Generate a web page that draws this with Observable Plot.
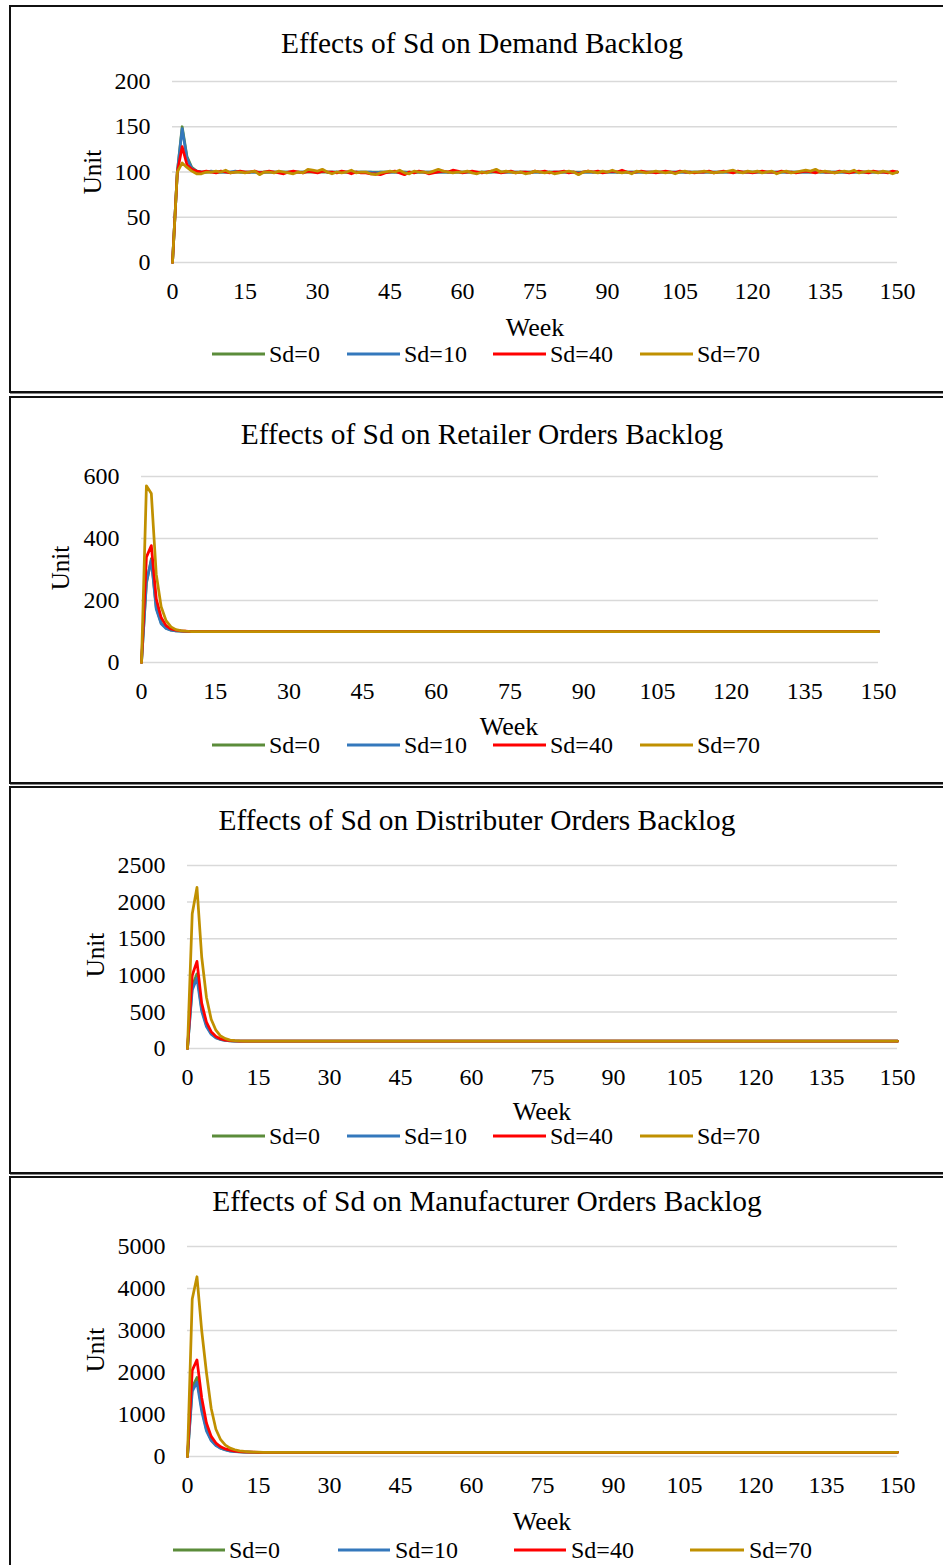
<!DOCTYPE html>
<html>
<head>
<meta charset="utf-8">
<script src="https://cdn.jsdelivr.net/npm/d3@7"></script>
<script src="https://cdn.jsdelivr.net/npm/@observablehq/plot@0.6"></script>
<style>
  html, body { margin: 0; padding: 0; background: #fff; overflow: hidden; }
  #page { position: relative; width: 943px; height: 1565px; overflow: hidden; font-family: "Liberation Serif", "Times New Roman", serif; color: #000; }
  .box { position: absolute; border: 2px solid #111; box-shadow: 1px 1px 0 #888; box-sizing: border-box; }
  .t { position: absolute; white-space: nowrap; line-height: 1; transform: translate(-50%, -50%); }
  .lt { position: absolute; white-space: nowrap; line-height: 1; transform: translateY(-50%); font-size: 24px; }
  .ll { position: absolute; height: 3px; transform: translateY(-50%); }
  .plot { position: absolute; left: 0; }
</style>
</head>
<body>
<div id="page"></div>
<script>
const seriesNames = ["Sd=0", "Sd=10", "Sd=40", "Sd=70"];
const seriesColors = ["#5B8C3A", "#3478BC", "#FF0000", "#C09000"];
const xTicks = [0, 15, 30, 45, 60, 75, 90, 105, 120, 135, 150];
const titles = [
  "Effects of Sd on Demand Backlog",
  "Effects of Sd on Retailer Orders Backlog",
  "Effects of Sd on Distributer Orders Backlog",
  "Effects of Sd on Manufacturer Orders Backlog"
];
const yTicks1 = [0, 50, 100, 150, 200];
const yTicks2 = [0, 200, 400, 600];
const yTicks3 = [0, 500, 1000, 1500, 2000, 2500];
const yTicks4 = [0, 1000, 2000, 3000, 4000, 5000];
const yLabel = "Unit";
const xLabel = "Week";

// ---- Panel 1: Demand Backlog (weeks 0..150) ----
const demandSd0 = `
0 100 150 117 105 101 100 100 100 100
100 100 100 100 100 100 100 100 100 100
100 100 100 100 100 100 100 100 100 100
100 100 100 100 100 100 100 100 100 100
100 100 100 100 100 100 100 100 100 100
100 100 100 100 100 100 100 100 100 100
100 100 100 100 100 100 100 100 100 100
100 100 100 100 100 100 100 100 100 100
100 100 100 100 100 100 100 100 100 100
100 100 100 100 100 100 100 100 100 100
100 100 100 100 100 100 100 100 100 100
100 100 100 100 100 100 100 100 100 100
100 100 100 100 100 100 100 100 100 100
100 100 100 100 100 100 100 100 100 100
100 100 100 100 100 100 100 100 100 100
100`;
const demandSd10 = `
0 100 148 115 104 101 100 100 101 100
100 100 100 101 100 100 100 100 99 100
100 100 100 100 100 100 100 100 101 101
100 101 100 100 100 100 100 100 100 100
100 100 99 100 100 100 100 100 100 99
100 100 100 100 100 100 100 100 100 100
100 100 100 99 100 100 100 101 100 100
100 100 100 100 100 100 100 100 100 100
100 100 100 100 99 100 100 100 100 100
100 100 100 100 100 100 100 100 100 100
100 100 100 100 100 100 100 100 100 100
100 100 100 100 100 100 101 100 100 100
100 100 100 100 100 100 100 100 100 100
100 100 100 101 100 100 100 100 100 100
100 100 100 100 100 100 100 100 100 100
100`;
const demandSd40 = `
0 100 128 108 103 101 100 101 100 99
101 100 99 100 101 100 100 101 99 100
101 100 99 98 100 101 100 99 101 100
99 101 100 100 99 101 100 98 100 99
99 98 98 97 99 100 101 99 97 100
99 101 100 98 99 100 101 100 102 101
99 100 101 100 99 100 101 100 99 100
101 99 100 100 99 101 100 101 99 100
100 101 99 100 98 100 101 100 101 99
100 101 100 102 100 99 100 101 100 100
99 100 101 100 99 101 100 100 99 100
100 101 99 100 101 100 99 101 100 100
99 100 101 100 100 99 101 100 100 99
100 101 100 99 101 100 100 99 101 100
99 100 101 100 99 101 100 100 99 101
100`;
const demandSd70 = `
0 100 110 105 101 98 98 100 100 101
100 102 99 100 100 99 100 101 97 100
100 99 101 100 99 98 100 99 103 102
101 103 100 98 100 99 100 102 99 100
100 98 97 99 100 101 100 102 99 98
101 100 100 99 101 103 101 100 99 100
100 101 99 98 100 99 101 103 100 101
100 99 100 98 99 101 100 99 100 98
99 100 101 100 97 100 101 100 99 101
100 102 100 99 100 98 101 100 99 100
101 100 99 100 98 100 101 99 100 100
101 100 99 100 100 101 102 100 99 101
100 101 99 100 101 98 100 101 99 100
101 102 101 103 100 101 100 99 100 101
100 102 99 100 101 100 99 101 100 98
100`;

// ---- Panel 2: Retailer Orders Backlog ----
const retailerSd0 = `
0 255 335 178 128 111 104 102 101 100
100 100 100 100 100 100 100 100 100 100
100 100 100 100 100 100 100 100 100 100
100 100 100 100 100 100 100 100 100 100
100 100 100 100 100 100 100 100 100 100
100 100 100 100 100 100 100 100 100 100
100 100 100 100 100 100 100 100 100 100
100 100 100 100 100 100 100 100 100 100
100 100 100 100 100 100 100 100 100 100
100 100 100 100 100 100 100 100 100 100
100 100 100 100 100 100 100 100 100 100
100 100 100 100 100 100 100 100 100 100
100 100 100 100 100 100 100 100 100 100
100 100 100 100 100 100 100 100 100 100
100 100 100 100 100 100 100 100 100 100
100`;
const retailerSd10 = `
0 260 330 172 125 110 104 102 101 100
100 100 100 100 100 100 100 100 100 100
100 100 100 100 100 100 100 100 100 100
100 100 100 100 100 100 100 100 100 100
100 100 100 100 100 100 100 100 100 100
100 100 100 100 100 100 100 100 100 100
100 100 100 100 100 100 100 100 100 100
100 100 100 100 100 100 100 100 100 100
100 100 100 100 100 100 100 100 100 100
100 100 100 100 100 100 100 100 100 100
100 100 100 100 100 100 100 100 100 100
100 100 100 100 100 100 100 100 100 100
100 100 100 100 100 100 100 100 100 100
100 100 100 100 100 100 100 100 100 100
100 100 100 100 100 100 100 100 100 100
100`;
const retailerSd40 = `
0 340 377 205 145 119 108 104 102 101
100 100 100 100 100 100 100 100 100 100
100 100 100 100 100 100 100 100 100 100
100 100 100 100 100 100 100 100 100 100
100 100 100 100 100 100 100 100 100 100
100 100 100 100 100 100 100 100 100 100
100 100 100 100 100 100 100 100 100 100
100 100 100 100 100 100 100 100 100 100
100 100 100 100 100 100 100 100 100 100
100 100 100 100 100 100 100 100 100 100
100 100 100 100 100 100 100 100 100 100
100 100 100 100 100 100 100 100 100 100
100 100 100 100 100 100 100 100 100 100
100 100 100 100 100 100 100 100 100 100
100 100 100 100 100 100 100 100 100 100
100`;
const retailerSd70 = `
0 570 545 285 180 135 115 106 103 101
100 100 100 100 100 100 100 100 100 100
100 100 100 100 100 100 100 100 100 100
100 100 100 100 100 100 100 100 100 100
100 100 100 100 100 100 100 100 100 100
100 100 100 100 100 100 100 100 100 100
100 100 100 100 100 100 100 100 100 100
100 100 100 100 100 100 100 100 100 100
100 100 100 100 100 100 100 100 100 100
100 100 100 100 100 100 100 100 100 100
100 100 100 100 100 100 100 100 100 100
100 100 100 100 100 100 100 100 100 100
100 100 100 100 100 100 100 100 100 100
100 100 100 100 100 100 100 100 100 100
100 100 100 100 100 100 100 100 100 100
100`;

// ---- Panel 3: Distributer Orders Backlog ----
const distribSd0 = `
0 850 1020 540 320 205 150 125 112 105
102 101 100 100 100 100 100 100 100 100
100 100 100 100 100 100 100 100 100 100
100 100 100 100 100 100 100 100 100 100
100 100 100 100 100 100 100 100 100 100
100 100 100 100 100 100 100 100 100 100
100 100 100 100 100 100 100 100 100 100
100 100 100 100 100 100 100 100 100 100
100 100 100 100 100 100 100 100 100 100
100 100 100 100 100 100 100 100 100 100
100 100 100 100 100 100 100 100 100 100
100 100 100 100 100 100 100 100 100 100
100 100 100 100 100 100 100 100 100 100
100 100 100 100 100 100 100 100 100 100
100 100 100 100 100 100 100 100 100 100
100`;
const distribSd10 = `
0 800 960 510 300 195 145 122 110 104
102 101 100 100 100 100 100 100 100 100
100 100 100 100 100 100 100 100 100 100
100 100 100 100 100 100 100 100 100 100
100 100 100 100 100 100 100 100 100 100
100 100 100 100 100 100 100 100 100 100
100 100 100 100 100 100 100 100 100 100
100 100 100 100 100 100 100 100 100 100
100 100 100 100 100 100 100 100 100 100
100 100 100 100 100 100 100 100 100 100
100 100 100 100 100 100 100 100 100 100
100 100 100 100 100 100 100 100 100 100
100 100 100 100 100 100 100 100 100 100
100 100 100 100 100 100 100 100 100 100
100 100 100 100 100 100 100 100 100 100
100`;
const distribSd40 = `
0 1000 1190 620 360 230 165 130 115 107
103 101 100 100 100 100 100 100 100 100
100 100 100 100 100 100 100 100 100 100
100 100 100 100 100 100 100 100 100 100
100 100 100 100 100 100 100 100 100 100
100 100 100 100 100 100 100 100 100 100
100 100 100 100 100 100 100 100 100 100
100 100 100 100 100 100 100 100 100 100
100 100 100 100 100 100 100 100 100 100
100 100 100 100 100 100 100 100 100 100
100 100 100 100 100 100 100 100 100 100
100 100 100 100 100 100 100 100 100 100
100 100 100 100 100 100 100 100 100 100
100 100 100 100 100 100 100 100 100 100
100 100 100 100 100 100 100 100 100 100
100`;
const distribSd70 = `
0 1840 2200 1250 700 400 250 170 135 115
108 104 102 101 100 100 100 100 100 100
100 100 100 100 100 100 100 100 100 100
100 100 100 100 100 100 100 100 100 100
100 100 100 100 100 100 100 100 100 100
100 100 100 100 100 100 100 100 100 100
100 100 100 100 100 100 100 100 100 100
100 100 100 100 100 100 100 100 100 100
100 100 100 100 100 100 100 100 100 100
100 100 100 100 100 100 100 100 100 100
100 100 100 100 100 100 100 100 100 100
100 100 100 100 100 100 100 100 100 100
100 100 100 100 100 100 100 100 100 100
100 100 100 100 100 100 100 100 100 100
100 100 100 100 100 100 100 100 100 100
100`;

// ---- Panel 4: Manufacturer Orders Backlog ----
const manufSd0 = `
0 1650 1880 1150 650 400 270 200 160 135
120 111 105 102 101 100 100 100 100 100
100 100 100 100 100 100 100 100 100 100
100 100 100 100 100 100 100 100 100 100
100 100 100 100 100 100 100 100 100 100
100 100 100 100 100 100 100 100 100 100
100 100 100 100 100 100 100 100 100 100
100 100 100 100 100 100 100 100 100 100
100 100 100 100 100 100 100 100 100 100
100 100 100 100 100 100 100 100 100 100
100 100 100 100 100 100 100 100 100 100
100 100 100 100 100 100 100 100 100 100
100 100 100 100 100 100 100 100 100 100
100 100 100 100 100 100 100 100 100 100
100 100 100 100 100 100 100 100 100 100
100`;
const manufSd10 = `
0 1550 1770 1080 610 380 260 195 155 130
116 108 104 102 101 100 100 100 100 100
100 100 100 100 100 100 100 100 100 100
100 100 100 100 100 100 100 100 100 100
100 100 100 100 100 100 100 100 100 100
100 100 100 100 100 100 100 100 100 100
100 100 100 100 100 100 100 100 100 100
100 100 100 100 100 100 100 100 100 100
100 100 100 100 100 100 100 100 100 100
100 100 100 100 100 100 100 100 100 100
100 100 100 100 100 100 100 100 100 100
100 100 100 100 100 100 100 100 100 100
100 100 100 100 100 100 100 100 100 100
100 100 100 100 100 100 100 100 100 100
100 100 100 100 100 100 100 100 100 100
100`;
const manufSd40 = `
0 2050 2300 1400 800 480 320 230 180 150
130 118 110 105 102 101 100 100 100 100
100 100 100 100 100 100 100 100 100 100
100 100 100 100 100 100 100 100 100 100
100 100 100 100 100 100 100 100 100 100
100 100 100 100 100 100 100 100 100 100
100 100 100 100 100 100 100 100 100 100
100 100 100 100 100 100 100 100 100 100
100 100 100 100 100 100 100 100 100 100
100 100 100 100 100 100 100 100 100 100
100 100 100 100 100 100 100 100 100 100
100 100 100 100 100 100 100 100 100 100
100 100 100 100 100 100 100 100 100 100
100 100 100 100 100 100 100 100 100 100
100 100 100 100 100 100 100 100 100 100
100`;
const manufSd70 = `
0 3750 4280 3000 2000 1150 650 400 270 200
160 135 120 112 106 103 101 100 100 100
100 100 100 100 100 100 100 100 100 100
100 100 100 100 100 100 100 100 100 100
100 100 100 100 100 100 100 100 100 100
100 100 100 100 100 100 100 100 100 100
100 100 100 100 100 100 100 100 100 100
100 100 100 100 100 100 100 100 100 100
100 100 100 100 100 100 100 100 100 100
100 100 100 100 100 100 100 100 100 100
100 100 100 100 100 100 100 100 100 100
100 100 100 100 100 100 100 100 100 100
100 100 100 100 100 100 100 100 100 100
100 100 100 100 100 100 100 100 100 100
100 100 100 100 100 100 100 100 100 100
100`;

const parse = s => s.trim().split(/\s+/).map(Number);

// layout of each boxed panel (page pixels)
const panels = [
  { title: titles[0], series: [demandSd0, demandSd10, demandSd40, demandSd70], yTicks: yTicks1,
    box: [9, 5, 388], svgTop: 6, h: 384, ml: 172, mr: 46, mt: 75, mb: 128,
    titleXY: [482, 44], unitXY: [92, 172], weekXY: [535, 328], legY: 354,
    leg: [[212, 265, 269], [347, 400, 404], [493, 546, 550], [640, 693, 697]] },
  { title: titles[1], series: [retailerSd0, retailerSd10, retailerSd40, retailerSd70], yTicks: yTicks2,
    box: [9, 396, 388], svgTop: 397, h: 385, ml: 141, mr: 65, mt: 79, mb: 120,
    titleXY: [482, 435], unitXY: [60, 568], weekXY: [509, 727], legY: 745,
    leg: [[212, 265, 269], [347, 400, 404], [493, 546, 550], [640, 693, 697]] },
  { title: titles[2], series: [distribSd0, distribSd10, distribSd40, distribSd70], yTicks: yTicks3,
    box: [9, 786, 388], svgTop: 787, h: 385, ml: 187, mr: 46, mt: 78, mb: 124,
    titleXY: [477, 821], unitXY: [95, 955], weekXY: [542, 1112], legY: 1136,
    leg: [[212, 265, 269], [347, 400, 404], [493, 546, 550], [640, 693, 697]] },
  { title: titles[3], series: [manufSd0, manufSd10, manufSd40, manufSd70], yTicks: yTicks4,
    box: [9, 1176, 400], svgTop: 1177, h: 388, ml: 187, mr: 46, mt: 69, mb: 109,
    titleXY: [487, 1202], unitXY: [95, 1350], weekXY: [542, 1522], legY: 1550,
    leg: [[173, 225, 229], [338, 390, 395], [514, 566, 571], [690, 744, 749]] }
];

const page = document.getElementById("page");
function el(cls, css, text) {
  const d = document.createElement("div");
  d.className = cls;
  Object.assign(d.style, css);
  if (text != null) d.textContent = text;
  page.appendChild(d);
  return d;
}

for (const p of panels) {
  el("box", { left: p.box[0] + "px", top: p.box[1] + "px", width: "950px", height: p.box[2] + "px" });

  const rows = [];
  seriesNames.forEach((name, i) => {
    parse(p.series[i]).forEach((v, w) => rows.push({ week: w, value: v, series: name }));
  });

  const svg = Plot.plot({
    width: 943,
    height: p.h,
    marginLeft: p.ml,
    marginRight: p.mr,
    marginTop: p.mt,
    marginBottom: p.mb,
    style: { fontFamily: "'Liberation Serif', 'Times New Roman', serif", fontSize: "24px", color: "#000", background: "transparent", overflow: "visible" },
    x: { domain: [0, 150], ticks: xTicks, tickSize: 0, tickPadding: 19, label: null, tickFormat: d => String(d) },
    y: { domain: [0, d3.max(p.yTicks)], ticks: p.yTicks, tickSize: 0, tickPadding: 22, label: null, tickFormat: d => String(d) },
    color: { domain: seriesNames, range: seriesColors },
    marks: [
      Plot.ruleY(p.yTicks, { stroke: "#d9d9d9", strokeWidth: 1.5 }),
      ...seriesNames.map(name => Plot.line(rows.filter(r => r.series === name), {
        x: "week", y: "value", stroke: "series", strokeWidth: 2.75, strokeLinejoin: "round"
      }))
    ]
  });
  svg.classList.add("plot");
  svg.style.position = "absolute";
  svg.style.top = p.svgTop + "px";
  svg.style.left = "0px";
  page.appendChild(svg);

  el("t", { left: p.titleXY[0] + "px", top: p.titleXY[1] + "px", fontSize: "29.4px" }, p.title);
  el("t", { left: p.unitXY[0] + "px", top: p.unitXY[1] + "px", fontSize: "25px", transform: "translate(-50%,-50%) rotate(-90deg)" }, yLabel);
  el("t", { left: p.weekXY[0] + "px", top: p.weekXY[1] + "px", fontSize: "26px" }, xLabel);
  p.leg.forEach((l, i) => {
    el("ll", { left: l[0] + "px", top: p.legY + "px", width: (l[1] - l[0]) + "px", background: seriesColors[i] });
    el("lt", { left: l[2] + "px", top: p.legY + "px" }, seriesNames[i]);
  });
}
</script>
</body>
</html>
